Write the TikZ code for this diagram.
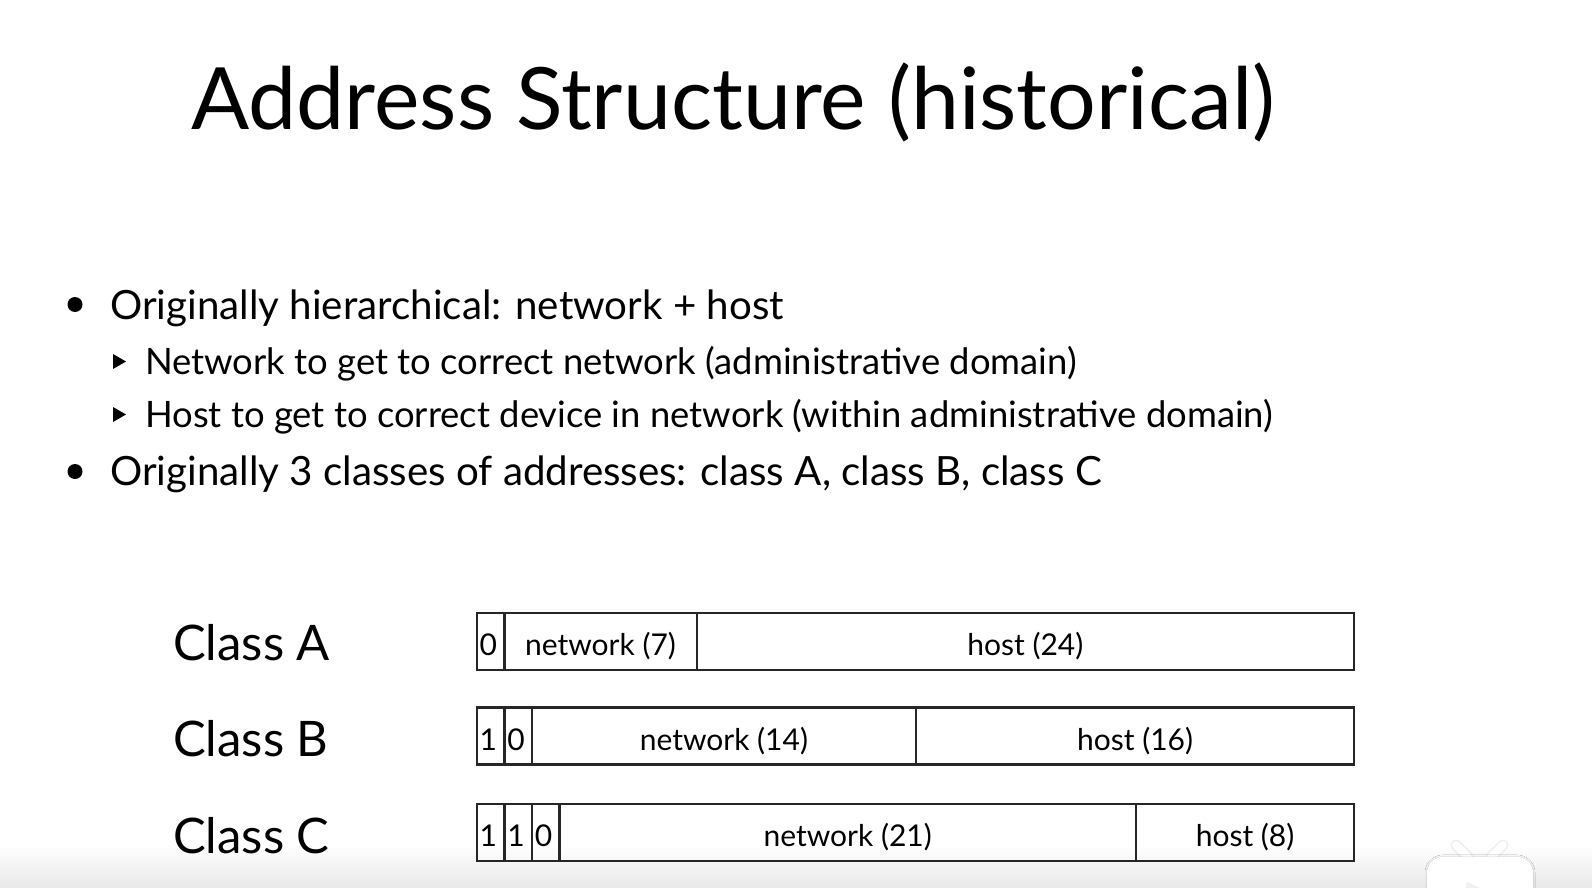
\documentclass[tikz,border=0pt]{standalone}
\usepackage{fontspec}
\setmainfont{Lato}
\usetikzlibrary{shadows.blur}
\begin{document}
\begin{tikzpicture}[x=1pt,y=-1pt,
  title/.style={anchor=base west,inner sep=0,font=\fontsize{86}{90}\selectfont},
  lvlone/.style={anchor=base west,inner sep=0,font=\fontsize{40.3}{46}\selectfont},
  lvltwo/.style={anchor=base west,inner sep=0,font=\fontsize{36.4}{40}\selectfont},
  classlbl/.style={anchor=base west,inner sep=0,font=\fontsize{49}{56}\selectfont},
  cell/.style={draw=black!85,line width=2.4pt,minimum height=57,inner sep=0,outer sep=0,
    anchor=north west,font=\fontsize{30}{32}\selectfont,text height=28pt,text depth=0pt},
  bit/.style={cell,text width=21.6,inner xsep=3,align=left,minimum width=27.6},
  dot/.style={circle,fill=black,inner sep=0,minimum size=15},
  tri/.style={fill=black}]
\useasboundingbox (0,0) rectangle (1592,888);
\fill[white] (0,0) rectangle (1592,888);
% soft grey band along the lower edge
\shade[top color=white,bottom color=black!9] (0,845) rectangle (1592,888);

% title
\node[title] (ttl) at (191,129) {Address Structure (historical)};

% bullet list
\node[dot] (b1) at (75,304.5) {};
\node[lvlone] (t1) at (110,319) {Originally hierarchical: network + host};
\fill[tri] (113,354) -- (126,361.5) -- (113,369) -- cycle;
\node[lvltwo] (t2) at (145,374) {Network to get to correct network (administrative domain)};
\fill[tri] (113,407) -- (126,414.5) -- (113,422) -- cycle;
\node[lvltwo] (t3) at (145,427) {Host to get to correct device in network (within administrative domain)};
\node[dot] (b2) at (75,471.5) {};
\node[lvlone] (t4) at (110,485) {Originally 3 classes of addresses: class A, class B, class C};

% class labels
\node[classlbl] (la) at (173,660) {Class A};
\node[classlbl] (lb) at (173,756) {Class B};
\node[classlbl] (lc) at (173,853) {Class C};

% class A layout
\node[bit] (a0) at (476.7,612.7) {0};
\node[cell,minimum width=192.4] (an) at (a0.north east) {network (7)};
\node[cell,minimum width=657.3] (ah) at (an.north east) {host (24)};

% class B layout
\node[bit] (b0) at (476.7,707.5) {1};
\node[bit] (b01) at (b0.north east) {0};
\node[cell,minimum width=384] (bn) at (b01.north east) {network (14)};
\node[cell,minimum width=438.3] (bh) at (bn.north east) {host (16)};

% class C layout
\node[bit] (c0) at (476.7,804) {1};
\node[bit] (c01) at (c0.north east) {1};
\node[bit] (c02) at (c01.north east) {0};
\node[cell,minimum width=576.4] (cn) at (c02.north east) {network (21)};
\node[cell,minimum width=218.3] (ch) at (cn.north east) {host (8)};

% faint tv-shaped mark in the lower right corner
\begin{scope}
  \clip (0,0) rectangle (1592,888);
  \draw[black!7,line width=11pt,line cap=round] (1456,845) -- (1468,857) (1503,845) -- (1491,857);
  \draw[white,line width=8pt,line cap=round] (1456,845) -- (1468,857) (1503,845) -- (1491,857);
  \fill[white,rounded corners=16,blur shadow={shadow blur steps=8,shadow xshift=0pt,shadow yshift=0pt,shadow opacity=20}]
    (1427,857) rectangle (1533,910);
  \fill[black!6,rounded corners=3] (1466,881) -- (1490,893) -- (1466,905) -- cycle;
\end{scope}
\end{tikzpicture}
\end{document}
